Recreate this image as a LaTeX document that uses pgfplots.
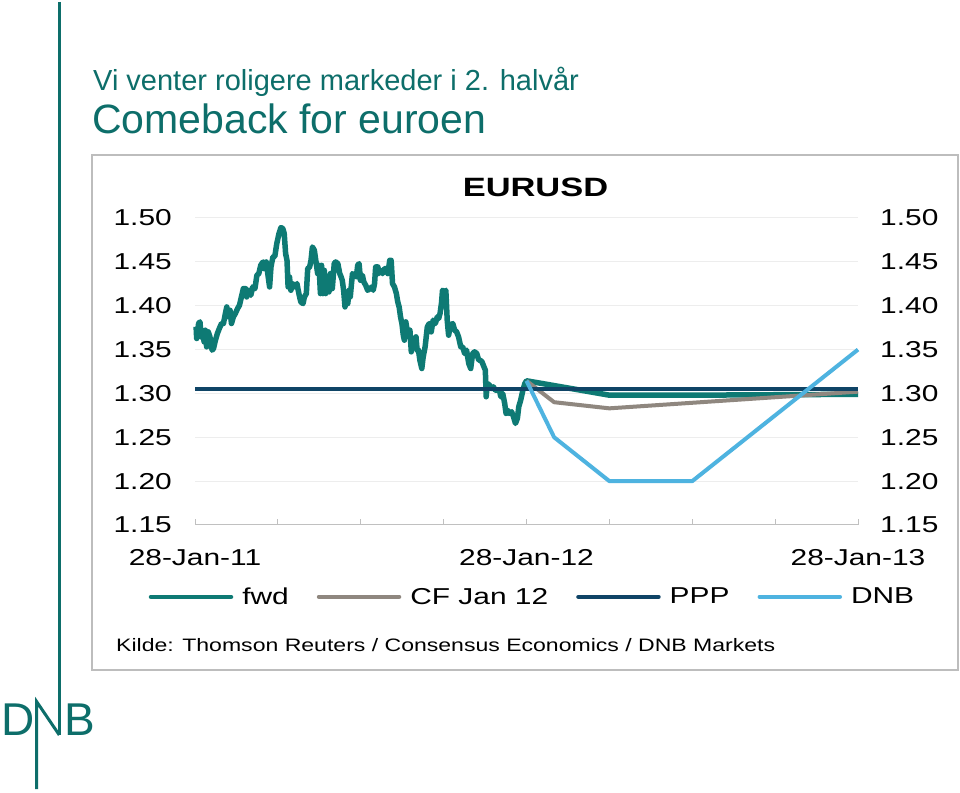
\documentclass[border=0pt]{standalone}
\usepackage{fontspec}
\usepackage{pgfplots}
\pgfplotsset{compat=1.18}
\setmainfont{Liberation Sans}
\newfontfamily\chartfont[FakeStretch=1.3]{Liberation Sans}
\newfontfamily\srcfont[FakeStretch=1.28]{Liberation Sans}
\definecolor{dnbteal}{HTML}{0D6E6A}
\definecolor{fwdteal}{HTML}{0E7A74}
\definecolor{cfgray}{HTML}{8F877F}
\definecolor{pppnavy}{HTML}{0F4466}
\definecolor{dnbblue}{HTML}{4EB3E0}
\definecolor{gridgray}{HTML}{EDEDED}
\definecolor{axisgray}{HTML}{C0C0C0}
\definecolor{framegray}{HTML}{BDBDBD}
\begin{document}
\begin{tikzpicture}[x=1pt,y=1pt]
\fill[white] (0,0) rectangle (960,792);
\useasboundingbox (0,0) rectangle (960,792);
% logo / page decoration
\draw[dnbteal, line width=3pt] (59.3,790) -- (59.3,57);
\draw[dnbteal, line width=3pt] (36.7,3) -- (36.7,90.3) -- (59.3,57);
\node[anchor=base west, inner sep=0pt, text=dnbteal, font=\fontsize{46}{46}\selectfont] at (1.5,57) {D};
\node[anchor=base west, inner sep=0pt, text=dnbteal, font=\fontsize{46}{46}\selectfont] at (64.3,57) {B};
% titles
\node[anchor=base west, inner sep=0pt, text=dnbteal, font=\fontsize{29}{32}\selectfont] at (93,701) {Vi venter roligere markeder i 2. halvår};
\node[anchor=base west, inner sep=0pt, text=dnbteal, font=\fontsize{41}{44}\selectfont] at (92,658) {Comeback for euroen};
% frame
\draw[framegray, line width=1.5pt] (92,122) rectangle (958,637);
% chart title
\node[anchor=base, inner sep=0pt, font=\chartfont\bfseries\fontsize{26.5}{30}\selectfont] at (535.5,595.3) {EURUSD};
% source
\node[anchor=base west, inner sep=0pt, font=\srcfont\fontsize{18}{20}\selectfont] at (116,140.3) {Kilde: Thomson Reuters / Consensus Economics / DNB Markets};

\begin{axis}[
  at={(195pt,267pt)}, anchor=south west,
  scale only axis, width=663pt, height=307pt,
  xmin=0, xmax=24, ymin=1.15, ymax=1.50,
  clip=false,
  axis x line*=bottom, axis y line*=left,
  x axis line style={-, draw=axisgray, line width=1pt},
  y axis line style={draw=none},
  ytick style={draw=none},
  xtick style={draw=axisgray, line width=1pt},
  tick align=inside, major tick length=6pt,
  xtick={0,3,6,9,12,15,18,21,24},
  xticklabels={28-Jan-11,,,,28-Jan-12,,,,28-Jan-13},
  ytick={1.15,1.2,1.25,1.3,1.35,1.4,1.45,1.5},
  yticklabels={1.15,1.20,1.25,1.30,1.35,1.40,1.45,1.50},
  ymajorgrids, grid style={draw=gridgray, line width=1pt},
  ticklabel style={font=\chartfont\fontsize{23}{27}\selectfont},
  yticklabel style={anchor=east, inner sep=0pt, xshift=-23pt},
  xticklabel style={anchor=north, inner sep=0pt, yshift=-24pt},
  legend columns=4,
  legend style={draw=none, fill=none, at={(0.509,-0.234)}, anchor=center,
    font=\chartfont\fontsize{23}{27}\selectfont,
    /tikz/every odd column/.append style={column sep=7pt},
    /tikz/every even column/.append style={column sep=26pt}},
  legend image code/.code={\draw[#1, line width=4.5pt, line cap=round] (0pt,0pt) -- (80pt,0pt);},
  every axis plot/.append style={line join=round},
]
\addplot[fwdteal, line width=5.5pt] coordinates {
(0.04,1.3759) (0.06,1.3626) (0.13,1.3797) (0.18,1.3816) (0.22,1.3645) (0.27,1.3702) (0.33,1.3588) (0.37,1.3721) (0.42,1.3531) (0.48,1.3702) (0.54,1.3645) (0.62,1.3493) (0.67,1.3512) (0.74,1.3607) (0.81,1.3683) (0.88,1.3740) (0.96,1.3797) (1.03,1.3797) (1.10,1.3911) (1.15,1.3986) (1.22,1.3873) (1.27,1.3948) (1.32,1.3797) (1.39,1.3873) (1.46,1.3911) (1.54,1.3967) (1.61,1.4005) (1.68,1.4100) (1.75,1.4195) (1.83,1.4195) (1.87,1.4100) (1.95,1.4176) (2.02,1.4119) (2.09,1.4214) (2.17,1.4195) (2.24,1.4347) (2.31,1.4366) (2.38,1.4461) (2.46,1.4499) (2.50,1.4423) (2.58,1.4499) (2.65,1.4328) (2.70,1.4214) (2.75,1.4442) (2.82,1.4556) (2.89,1.4563) (2.96,1.4708) (3.04,1.4822) (3.11,1.4890) (3.18,1.4879) (3.23,1.4822) (3.28,1.4594) (3.33,1.4518) (3.37,1.4214) (3.42,1.4328) (3.47,1.4176) (3.54,1.4252) (3.62,1.4214) (3.69,1.4252) (3.76,1.4138) (3.83,1.4043) (3.91,1.4024) (3.96,1.4100) (4.03,1.4138) (4.08,1.4423) (4.15,1.4442) (4.20,1.4518) (4.25,1.4670) (4.32,1.4632) (4.39,1.4480) (4.44,1.4366) (4.49,1.4461) (4.54,1.4138) (4.58,1.4461) (4.63,1.4138) (4.68,1.4404) (4.73,1.4138) (4.78,1.4328) (4.85,1.4157) (4.90,1.4366) (4.97,1.4195) (5.04,1.4480) (5.09,1.4499) (5.17,1.4480) (5.24,1.4366) (5.29,1.4328) (5.33,1.4290) (5.38,1.4176) (5.43,1.3986) (5.48,1.4100) (5.53,1.4024) (5.58,1.4176) (5.62,1.4100) (5.70,1.4366) (5.77,1.4347) (5.84,1.4328) (5.89,1.4461) (5.94,1.4480) (5.99,1.4290) (6.06,1.4347) (6.11,1.4271) (6.18,1.4233) (6.25,1.4176) (6.33,1.4195) (6.40,1.4214) (6.45,1.4176) (6.50,1.4252) (6.54,1.4442) (6.62,1.4442) (6.66,1.4366) (6.71,1.4404) (6.79,1.4366) (6.86,1.4423) (6.93,1.4423) (6.98,1.4366) (7.05,1.4518) (7.10,1.4518) (7.15,1.4252) (7.22,1.4214) (7.29,1.4138) (7.34,1.4043) (7.39,1.3986) (7.44,1.3873) (7.49,1.3797) (7.54,1.3664) (7.58,1.3607) (7.63,1.3816) (7.68,1.3721) (7.73,1.3645) (7.78,1.3721) (7.83,1.3474) (7.90,1.3626) (7.95,1.3531) (8.00,1.3645) (8.04,1.3493) (8.09,1.3493) (8.14,1.3379) (8.21,1.3284) (8.26,1.3417) (8.33,1.3531) (8.41,1.3759) (8.48,1.3797) (8.55,1.3702) (8.62,1.3835) (8.70,1.3797) (8.77,1.3873) (8.82,1.3854) (8.87,1.3911) (8.92,1.4024) (8.96,1.4176) (9.04,1.4157) (9.08,1.4176) (9.13,1.3835) (9.18,1.3664) (9.25,1.3778) (9.33,1.3797) (9.40,1.3721) (9.47,1.3702) (9.54,1.3645) (9.62,1.3531) (9.69,1.3531) (9.76,1.3455) (9.83,1.3493) (9.91,1.3341) (9.98,1.3284) (10.05,1.3455) (10.12,1.3474) (10.20,1.3455) (10.27,1.3379) (10.32,1.3379) (10.39,1.3360) (10.46,1.3303) (10.51,1.3265) (10.54,1.2962) (10.58,1.3113) (10.66,1.3094) (10.73,1.3056) (10.80,1.3075) (10.87,1.3037) (10.95,1.3037) (11.02,1.3037) (11.07,1.2962) (11.14,1.2999) (11.21,1.2886) (11.26,1.2772) (11.31,1.2810) (11.38,1.2772) (11.46,1.2791) (11.53,1.2734) (11.60,1.2658) (11.67,1.2715) (11.72,1.2848) (11.79,1.2924) (11.87,1.3037) (11.94,1.3113) (12.00,1.3144) (15,1.298) (18,1.298) (24,1.299)
};
\addlegendentry{fwd}
\addplot[cfgray, line width=4pt] coordinates {(12,1.3144) (13,1.290) (15,1.283) (24,1.302)};
\addlegendentry{CF Jan 12}
\addplot[pppnavy, line width=4.5pt] coordinates {(0,1.305) (24,1.305)};
\addlegendentry{PPP}
\addplot[dnbblue, line width=4pt] coordinates {(12,1.3144) (13,1.25) (15,1.20) (18,1.20) (24,1.35)};
\addlegendentry{DNB}
\end{axis}

\begin{axis}[
  at={(195pt,267pt)}, anchor=south west,
  scale only axis, width=663pt, height=307pt,
  xmin=0, xmax=24, ymin=1.15, ymax=1.50,
  axis x line=none, axis y line*=right,
  y axis line style={draw=none},
  ytick style={draw=none},
  ytick={1.15,1.2,1.25,1.3,1.35,1.4,1.45,1.5},
  yticklabels={1.15,1.20,1.25,1.30,1.35,1.40,1.45,1.50},
  yticklabel style={anchor=west, inner sep=0pt, xshift=22pt, font=\chartfont\fontsize{23}{27}\selectfont},
]
\end{axis}
\end{tikzpicture}
\end{document}
